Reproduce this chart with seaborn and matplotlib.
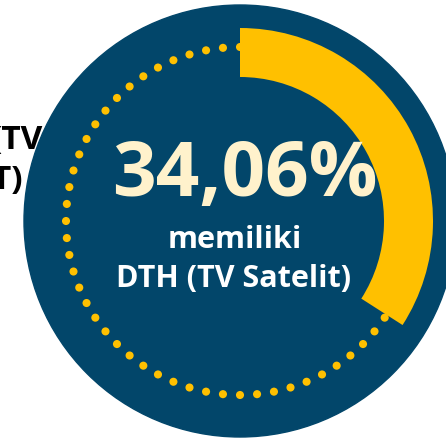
import numpy as np
import matplotlib.pyplot as plt
import seaborn as sns

# data
share_pct = 34.06
share_text = "34,06%"
caption_lines = ["memiliki", "DTH (TV Satelit)"]
side_lines = ["(TV", "SATELIT)"]

navy = "#02466A"
gold = "#FFC000"
cream = "#FFF2CC"

sns.set_theme(style="white")
plt.rcParams['font.family'] = ['Open Sans', 'DejaVu Sans']

fig = plt.figure(figsize=(4.46, 4.38), dpi=100)
ax = fig.add_axes([0, 0, 1, 1])

cx, cy = 240, 438 - 221

# clipped label from the neighbouring panel, sits behind the disc
ax.text(43, 438 - 141, side_lines[0], ha='right', va='center', fontsize=24,
        fontweight='bold', color='black', zorder=0)
ax.text(23, 438 - 181, side_lines[1], ha='right', va='center', fontsize=24,
        fontweight='bold', color='black', zorder=0)

ax.add_patch(plt.Circle((cx, cy), 216, color=navy, zorder=1))

# dotted ring
n_dots = 64
ang = np.deg2rad(90 + np.arange(n_dots) * 360 / n_dots)
sns.scatterplot(x=cx + 174 * np.cos(ang), y=cy + 174 * np.sin(ang), ax=ax,
                s=34, color=gold, edgecolor='none', zorder=2, legend=False)

# progress arc
wedges, _ = ax.pie([share_pct, 100 - share_pct], startangle=90, counterclock=False,
                   center=(cx, cy), radius=193, colors=[gold, 'none'],
                   wedgeprops=dict(width=49, linewidth=0), frame=True)
for w in wedges:
    w.set_zorder(3)

ax.text(245, 438 - 177, share_text, ha='center', va='center', fontsize=55,
        fontweight='bold', color=cream, zorder=4)
ax.text(235, 438 - 240, caption_lines[0], ha='center', va='center', fontsize=22,
        fontweight='bold', color='white', zorder=4)
ax.text(234, 438 - 279, caption_lines[1], ha='center', va='center', fontsize=22,
        fontweight='bold', color='white', zorder=4)

ax.set_xlim(0, 446)
ax.set_ylim(0, 438)
ax.set_aspect('equal')
ax.axis('off')

fig.savefig("out.png", dpi=100)
